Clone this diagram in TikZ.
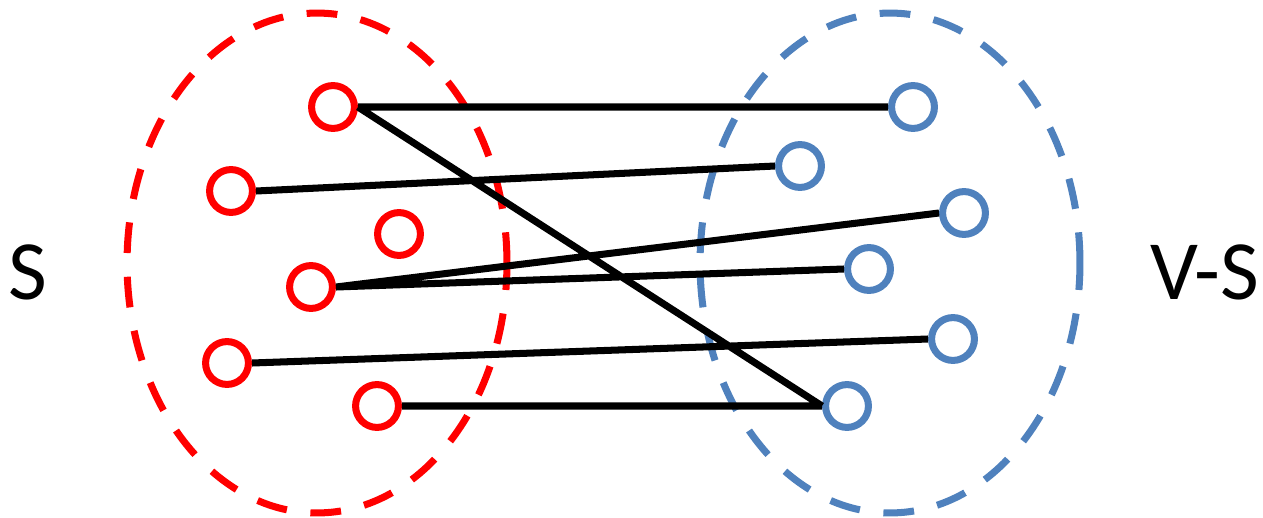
\documentclass[tikz,border=0pt]{standalone}
\usepackage{fontspec}
\setmainfont{Carlito}
\definecolor{setred}{RGB}{255,0,0}
\definecolor{setblue}{RGB}{79,129,189}
\tikzset{
  vred/.style={circle,draw=setred,line width=4pt,minimum size=24.4pt,inner sep=0pt},
  vblue/.style={circle,draw=setblue,line width=4pt,minimum size=24.4pt,inner sep=0pt},
  setline/.style={line width=4pt,dash pattern=on 17.5pt off 13.5pt},
  cutedge/.style={line width=4pt,black},
  setname/.style={font=\fontsize{48}{50}\selectfont}
}

\begin{document}
\begin{tikzpicture}[x=0.02cm,y=-0.02cm]
\useasboundingbox (0,0) rectangle (1263,517);
% the two sides of the cut
\draw[setline,setred] (317,263) ellipse [x radius=3.8cm, y radius=5cm];
\draw[setline,setblue] (890,263) ellipse [x radius=3.8cm, y radius=5cm];
\node[setname] (S) at (28,272) {S};
\node[setname] (VS) at (1205,272) {V-S};
% vertices in S
\node[vred] (r1) at (333,107) {};
\node[vred] (r2) at (231,191) {};
\node[vred] (r3) at (399,234) {};
\node[vred] (r4) at (311,287) {};
\node[vred] (r5) at (227,363) {};
\node[vred] (r6) at (377,406) {};
% vertices in V-S
\node[vblue] (b1) at (913,107) {};
\node[vblue] (b2) at (800,166) {};
\node[vblue] (b3) at (964,213) {};
\node[vblue] (b4) at (869,269) {};
\node[vblue] (b5) at (953,339) {};
\node[vblue] (b6) at (847,406) {};
% crossing edges
\draw[cutedge]
(r1.east)--(b1.west)
(r1.east)--(b6.west)
(r2.east)--(b2.west)
(r4.east)--(b3.west)
(r4.east)--(b4.west)
(r5.east)--(b5.west)
(r6.east)--(b6.west)
;
\end{tikzpicture}
\end{document}
